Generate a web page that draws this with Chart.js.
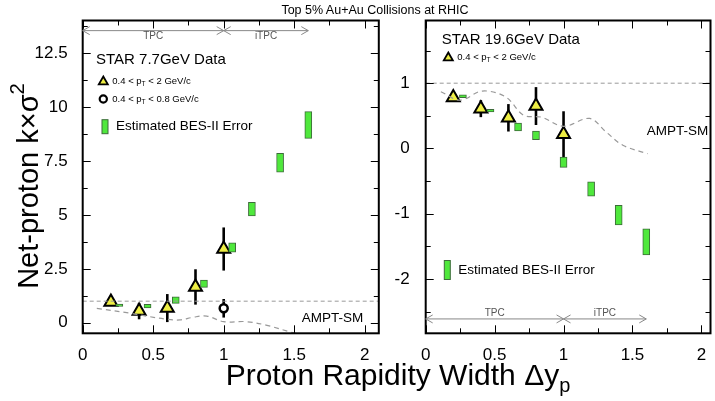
<!DOCTYPE html>
<html>
<head>
<meta charset="utf-8">
<script src="https://cdn.jsdelivr.net/npm/chart.js@4.4.1/dist/chart.umd.min.js"></script>
<style>
  body { margin: 0; background: #fff; }
  #wrap { position: relative; width: 715px; height: 401px; overflow: hidden; font-family: "Liberation Sans", Arial, sans-serif; }
  canvas { position: absolute; top: 0; }
  #left { left: 0; }
  #right { left: 345px; }
  #title { position: absolute; top: 3px; left: 0; width: 750px; text-align: center; font-size: 12.5px; }
  #xtitle { position: absolute; top: 359px; left: 0; width: 796px; text-align: center; font-size: 30px; line-height: 32px; }
  #xtitle sub { font-size: 20px; }
</style>
</head>
<body>
<div id="wrap">
  <canvas id="left" width="392" height="401"></canvas>
  <canvas id="right" width="375" height="401"></canvas>
  <div id="title">Top 5% Au+Au Collisions at RHIC</div>
  <div id="xtitle">Proton Rapidity Width &Delta;y<sub>p</sub></div>
</div>
<script>
const FONT = '"Liberation Sans", Arial, sans-serif';

// shared x axis
const xTicks = [0, 0.5, 1, 1.5, 2];
const xMinor = [0.25, 0.75, 1.25, 1.75];
const unityLevel = 1;

// 7.7 GeV panel
const ptX77 = [0.2, 0.4, 0.6, 0.8, 1.0];
const ptY77 = [0.96, 0.54, 0.68, 1.66, 3.42];
const ptE77 = [0.15, 0.38, 0.65, 0.82, 1.0];
const lowX77 = [1.0];
const lowY77 = [0.67];
const lowE77 = [0.43];
const besX77 = [0.26, 0.46, 0.66, 0.86, 1.06, 1.2, 1.4, 1.6];
const besY77 = [0.81, 0.77, 1.05, 1.81, 3.49, 5.27, 7.42, 9.17];
const besE77 = [0.05, 0.08, 0.15, 0.17, 0.22, 0.32, 0.44, 0.62];
const amptX77 = [0.1, 0.34, 0.45, 0.6, 0.69, 0.78, 0.88, 1.0, 1.16, 1.3, 1.49, 1.6];
const amptY77 = [0.67, 0.44, 0.31, 0.16, 0.13, 0.25, 0.31, 0.05, 0.05, -0.11, -0.46, -0.6];
const yTicks77 = [0, 2.5, 5, 7.5, 10, 12.5];
const yMinor77 = [1.25, 3.75, 6.25, 8.75, 11.25, 13.75];

// 19.6 GeV panel
const ptX196 = [0.2, 0.4, 0.6, 0.8, 1.0];
const ptY196 = [0.78, 0.61, 0.47, 0.65, 0.22];
const ptE196 = [0.06, 0.13, 0.21, 0.29, 0.35];
const besX196 = [0.27, 0.47, 0.67, 0.8, 1.0, 1.2, 1.4, 1.6];
const besY196 = [0.80, 0.58, 0.33, 0.20, -0.21, -0.62, -1.02, -1.43];
const besE196 = [0.02, 0.02, 0.06, 0.065, 0.08, 0.11, 0.15, 0.2];
const amptX196 = [0.11, 0.25, 0.41, 0.58, 0.71, 0.84, 1.0, 1.19, 1.31, 1.43, 1.61];
const amptY196 = [0.87, 0.74, 0.88, 0.79, 0.51, 0.48, 0.34, 0.46, 0.25, 0.05, -0.08];
const yTicks196 = [-2, -1, 0, 1];
const yMinor196 = [-2.5, -1.5, -0.5, 0.5, 1.5];

const YELLOW = '#eeee44';
const GREEN = '#4fe83c';
const GREEN_EDGE = '#3d6b3a';
const GRAY = '#999';

function pts(xs, ys) { return xs.map((x, i) => ({ x: x, y: ys[i] })); }
function bars(xs, ys, es) { return xs.map((x, i) => ({ x: x, y: [ys[i] - es[i], ys[i] + es[i]] })); }

// draw text pieces; a piece is a string, or [text, 'sub'|'sup']
function runs(ctx, parts, x, y, size, align) {
  ctx.textBaseline = 'middle';
  ctx.textAlign = 'left';
  const meas = parts.map(p => {
    const t = Array.isArray(p) ? p[0] : p;
    const s = Array.isArray(p) ? size * 0.7 : size;
    ctx.font = s + 'px ' + FONT;
    return ctx.measureText(t).width;
  });
  let cx = x;
  if (align === 'center') cx -= meas.reduce((a, b) => a + b, 0) / 2;
  parts.forEach((p, i) => {
    const t = Array.isArray(p) ? p[0] : p;
    let dy = 0, s = size;
    if (Array.isArray(p)) { s = size * 0.7; dy = p[1] === 'sub' ? size * 0.3 : -size * 0.4; }
    ctx.font = s + 'px ' + FONT;
    ctx.fillText(t, cx, y + dy);
    cx += meas[i];
  });
}

function triangle(ctx, x, y, r) {
  ctx.beginPath();
  ctx.moveTo(x, y - r);
  ctx.lineTo(x + r * 0.866, y + r * 0.5);
  ctx.lineTo(x - r * 0.866, y + r * 0.5);
  ctx.closePath();
  ctx.fillStyle = YELLOW; ctx.fill();
  ctx.lineWidth = 1.8; ctx.strokeStyle = '#000'; ctx.stroke();
}

function arrow(ctx, x1, x2, y) {
  ctx.beginPath();
  ctx.moveTo(x1, y); ctx.lineTo(x2, y);
  ctx.moveTo(x1 + 7, y - 4); ctx.lineTo(x1, y); ctx.lineTo(x1 + 7, y + 4);
  ctx.moveTo(x2 - 7, y - 4); ctx.lineTo(x2, y); ctx.lineTo(x2 - 7, y + 4);
  ctx.stroke();
}

function deco(offX, s) {
  return {
    id: 'deco',
    beforeDatasetsDraw(chart) {
      const { ctx, scales: { x, y } } = chart;
      ctx.save();
      ctx.strokeStyle = '#000';
      ctx.lineWidth = 2.6;
      s.errs.forEach(e => {
        e[0].forEach((xv, i) => {
          const px = x.getPixelForValue(xv);
          ctx.beginPath();
          ctx.moveTo(px, y.getPixelForValue(e[1][i] - e[2][i]));
          ctx.lineTo(px, y.getPixelForValue(e[1][i] + e[2][i]));
          ctx.stroke();
        });
      });
      ctx.restore();
    },
    afterDraw(chart) {
      const { ctx, chartArea: a, scales: { x, y } } = chart;
      ctx.save();
      // inward ticks on all four sides
      ctx.strokeStyle = '#000';
      ctx.lineWidth = 1;
      ctx.beginPath();
      [[xTicks, 8], [xMinor, 5]].forEach(([vals, len]) => vals.forEach(v => {
        const px = Math.round(x.getPixelForValue(v)) + 0.5;
        ctx.moveTo(px, a.bottom); ctx.lineTo(px, a.bottom - len);
        ctx.moveTo(px, a.top); ctx.lineTo(px, a.top + len);
      }));
      [[s.yTicks, 8], [s.yMinor, 5]].forEach(([vals, len]) => vals.forEach(v => {
        const py = Math.round(y.getPixelForValue(v)) + 0.5;
        ctx.moveTo(a.left, py); ctx.lineTo(a.left + len, py);
        ctx.moveTo(a.right, py); ctx.lineTo(a.right - len, py);
      }));
      ctx.stroke();
      ctx.lineWidth = 2;
      ctx.strokeRect(a.left, a.top, a.right - a.left, a.bottom - a.top);

      // detector coverage arrows
      ctx.strokeStyle = '#888';
      ctx.lineWidth = 1;
      const ay = y.getPixelForValue(s.arrowY);
      arrow(ctx, x.getPixelForValue(0), x.getPixelForValue(1), ay);
      arrow(ctx, x.getPixelForValue(1), x.getPixelForValue(1.6), ay);
      ctx.fillStyle = '#555';
      runs(ctx, ['TPC'], x.getPixelForValue(0.5), ay + s.arrowTextDy, 10, 'center');
      runs(ctx, ['iTPC'], x.getPixelForValue(1.3), ay + s.arrowTextDy, 10, 'center');

      // texts
      ctx.fillStyle = '#000';
      runs(ctx, ['AMPT-SM'], s.ampt[0] - offX, s.ampt[1], 13.5);
      runs(ctx, [s.head], s.headPos[0] - offX, s.headPos[1], 15);
      triangle(ctx, s.tri[0] - offX, s.tri[1], 5.2);
      ctx.fillStyle = '#000';
      runs(ctx, ['0.4 < p', ['T', 'sub'], ' < 2 GeV/c'], s.tri[0] - offX + 9, s.tri[1], 9.5);
      if (s.circ) {
        ctx.beginPath();
        ctx.arc(s.circ[0] - offX, s.circ[1], 3.6, 0, Math.PI * 2);
        ctx.fillStyle = '#fff'; ctx.fill();
        ctx.lineWidth = 2.2; ctx.strokeStyle = '#000'; ctx.stroke();
        ctx.fillStyle = '#000';
        runs(ctx, ['0.4 < p', ['T', 'sub'], ' < 0.8 GeV/c'], s.circ[0] - offX + 9, s.circ[1], 9.5);
      }
      const g = s.green;
      ctx.fillStyle = GREEN; ctx.strokeStyle = GREEN_EDGE; ctx.lineWidth = 1;
      ctx.fillRect(g[0] - offX - 3, g[1] - g[2] / 2, 6, g[2]);
      ctx.strokeRect(g[0] - offX - 3, g[1] - g[2] / 2, 6, g[2]);
      ctx.fillStyle = '#000';
      runs(ctx, ['Estimated BES-II Error'], g[0] - offX + 11, g[1], 13.5);

      if (s.ytitle) {
        ctx.translate(30, 186);
        ctx.rotate(-Math.PI / 2);
        runs(ctx, ['Net-proton k\u00d7\u03c3', ['2', 'sup']], 0, 0, 29, 'center');
      }
      ctx.restore();
    }
  };
}

function panel(id, offX, s) {
  const datasets = [
    { type: 'line', data: [{ x: 0, y: unityLevel }, { x: 3, y: unityLevel }], borderColor: GRAY, borderWidth: 1, borderDash: [4, 3], pointRadius: 0 },
    { type: 'line', data: pts(s.amptX, s.amptY), borderColor: GRAY, borderWidth: 1.2, borderDash: [5, 4], pointRadius: 0, tension: 0.35 },
    { type: 'bar', data: bars(s.besX, s.besY, s.besE), backgroundColor: GREEN, borderColor: GREEN_EDGE, borderWidth: 1, borderSkipped: false, barThickness: 7, minBarLength: 2, grouped: false },
    { type: 'scatter', data: pts(s.ptX, s.ptY), pointStyle: 'triangle', pointRadius: 7.5, backgroundColor: YELLOW, borderColor: '#000', borderWidth: 2 }
  ];
  if (s.lowX) {
    datasets.push({ type: 'scatter', data: pts(s.lowX, s.lowY), pointStyle: 'circle', pointRadius: 4, backgroundColor: '#fff', borderColor: '#000', borderWidth: 2.5 });
  }
  new Chart(document.getElementById(id), {
    type: 'scatter',
    data: { datasets: datasets },
    options: {
      responsive: false,
      animation: false,
      events: [],
      layout: { padding: { top: 20.5, right: s.padRight, left: 0, bottom: 0 } },
      plugins: { legend: { display: false }, tooltip: { enabled: false } },
      scales: {
        x: {
          type: 'linear', min: 0, max: s.xMax, offset: false,
          grid: { display: false }, border: { display: false },
          afterBuildTicks: sc => { sc.ticks = xTicks.map(v => ({ value: v })); },
          afterFit: sc => { sc.height = 401 - 333.3; },
          ticks: { callback: v => String(v), font: { size: 17, family: FONT }, color: '#000', padding: 4, maxRotation: 0, autoSkip: false }
        },
        y: {
          type: 'linear', min: s.yMin, max: s.yMax,
          grid: { display: false }, border: { display: false },
          afterBuildTicks: sc => { sc.ticks = s.yTicks.map(v => ({ value: v })); },
          afterFit: sc => { sc.width = s.yWidth; },
          ticks: { callback: v => String(v), font: { size: 17, family: FONT }, color: '#000', padding: s.tickPad, autoSkip: false }
        }
      }
    },
    plugins: [deco(offX, s)]
  });
}

panel('left', 0, {
  ptX: ptX77, ptY: ptY77, lowX: lowX77, lowY: lowY77,
  besX: besX77, besY: besY77, besE: besE77,
  amptX: amptX77, amptY: amptY77,
  errs: [[ptX77, ptY77, ptE77], [lowX77, lowY77, lowE77]],
  yTicks: yTicks77, yMinor: yMinor77,
  yMin: -0.49, yMax: 14.02, xMax: 2.1,
  yWidth: 82.7, padRight: 392 - 378.8, tickPad: 7,
  arrowY: 13.55, arrowTextDy: 6,
  ampt: [301.7, 318.3],
  head: 'STAR 7.7GeV Data', headPos: [96, 60],
  tri: [103.3, 81.7], circ: [103.3, 99],
  green: [105, 126.7, 14],
  ytitle: true
});

panel('right', 345, {
  ptX: ptX196, ptY: ptY196,
  besX: besX196, besY: besY196, besE: besE196,
  amptX: amptX196, amptY: amptY196,
  errs: [[ptX196, ptY196, ptE196]],
  yTicks: yTicks196, yMinor: yMinor196,
  yMin: -2.83, yMax: 1.96, xMax: 2.066,
  yWidth: 80.7, padRight: 3, tickPad: 8,
  arrowY: -2.61, arrowTextDy: -6,
  ampt: [646.7, 131.7],
  head: 'STAR 19.6GeV Data', headPos: [441.7, 40],
  tri: [448.3, 57.7],
  green: [447.3, 270, 19],
  ytitle: false
});
</script>
</body>
</html>
